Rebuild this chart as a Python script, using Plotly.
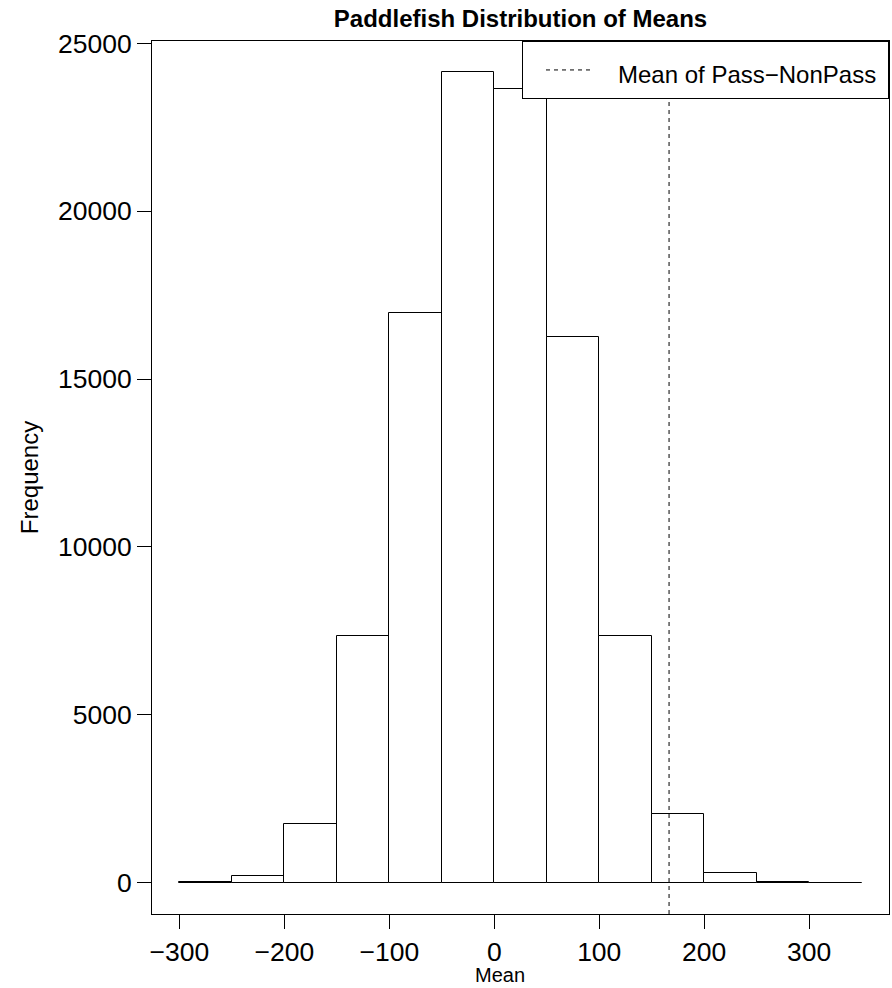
import plotly.graph_objects as go

# ---- data ----
bin_left = [-300, -250, -200, -150, -100, -50, 0, 50, 100, 150, 200, 250, 300]
bin_width = 50
counts = [12, 185, 1745, 7350, 16975, 24130, 23630, 16260, 7360, 2045, 295, 28, 5]
mean_pass_nonpass = 166.5

x_ticks = [-300, -200, -100, 0, 100, 200, 300]
y_ticks = [0, 5000, 10000, 15000, 20000, 25000]

def fmt(v):
    return ("\u2212" + str(abs(v))) if v < 0 else str(v)

centers = [b + bin_width / 2 for b in bin_left]

FONT = "Liberation Sans, Arial, Helvetica, sans-serif"
W, H = 892, 988
ML, MR, MT, MB = 152, 3, 41, 74
PW = W - ML - MR
PH = H - MT - MB

fig = go.Figure()
fig.add_trace(go.Bar(
    x=centers, y=counts, width=bin_width,
    marker=dict(color="white", line=dict(color="black", width=1)),
    showlegend=False, hoverinfo="x+y",
))

fig.add_shape(
    type="line", xref="x", yref="paper",
    x0=mean_pass_nonpass, x1=mean_pass_nonpass, y0=0, y1=1,
    line=dict(color="black", width=1, dash="4px,4px"),
    showlegend=True,
    name="<span style='font-size:24px'>\u00a0\u00a0\u00a0Mean of Pass\u2212NonPass\u00a0</span>",
)

# x-axis title placed as in the reference (slightly left of plot centre)
fig.add_annotation(
    text="Mean", xref="paper", yref="paper",
    x=(499.5 - ML) / PW, y=-(975 - (MT + PH)) / PH,
    xanchor="center", yanchor="middle", showarrow=False,
    font=dict(size=20, family=FONT, color="black"),
)

fig.update_layout(
    width=W, height=H,
    margin=dict(l=ML, r=MR, t=MT, b=MB),
    paper_bgcolor="white", plot_bgcolor="white",
    font=dict(family=FONT, color="black", size=24),
    bargap=0,
    title=dict(text="<b>Paddlefish Distribution of Means</b>",
               x=(ML + PW / 2) / W, xanchor="center",
               y=1 - 19 / H, yanchor="middle",
               font=dict(size=24, family=FONT, color="black")),
    showlegend=True,
    legend=dict(x=1, y=1, xanchor="right", yanchor="top",
                bgcolor="white", bordercolor="black", borderwidth=1,
                font=dict(size=33, family=FONT),
                itemwidth=47, indentation=18),
    xaxis=dict(range=[-326, 376], showgrid=False, zeroline=False,
               showline=True, mirror=True, linecolor="black", linewidth=1,
               ticks="outside", ticklen=14, tickwidth=1, tickcolor="black",
               tickvals=x_ticks, ticktext=[fmt(v) for v in x_ticks],
               tickfont=dict(size=26.5, family=FONT)),
    yaxis=dict(range=[-932, 25066], showgrid=False, zeroline=False,
               showline=True, mirror=True, linecolor="black", linewidth=1,
               ticks="outside", ticklen=14, tickwidth=1, tickcolor="black",
               tickvals=y_ticks, ticktext=[str(v) for v in y_ticks],
               tickfont=dict(size=26.5, family=FONT),
               title=dict(text="Frequency", standoff=12, font=dict(size=24, family=FONT))),
)

fig.write_html("out.html", config={"displayModeBar": False},
               post_script="document.body.style.margin='0';")
